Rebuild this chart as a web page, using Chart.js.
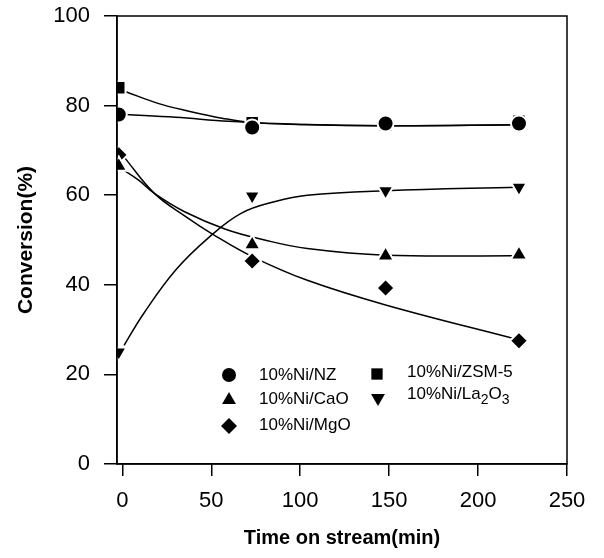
<!DOCTYPE html>
<html>
<head>
<meta charset="utf-8">
<script src="https://cdn.jsdelivr.net/npm/chart.js@4"></script>
<style>
    body { margin: 0; background: #fff; }
    #wrap { width: 604px; height: 558px; position: relative; }
</style>
</head>
<body>
<div id="wrap"><canvas id="conversionChart"></canvas></div>
<script>
// measured points (first run sits just left of the 0 tick, on the axis)
const times = [-2, 73, 148, 223];
const nzValues = [78, 75.1, 76, 76];
const zsmValues = [84, 76.2, 75.6, 76.5];
const caoValues = [66.5, 49, 46.5, 46.7];
const mgoValues = [69, 45.3, 39.3, 27.5];
const laValues = [25, 59.8, 61, 61.8];

// fitted curves
const nzFitX = [2, 30, 60, 100, 150, 223];
const nzFitY = [78, 77.4, 76.5, 75.8, 75.5, 75.7];
const zsmFitX = [2, 20, 38, 56, 73, 100, 150, 223];
const zsmFitY = [83.1, 80.5, 78.7, 77.2, 76.2, 75.8, 75.5, 75.7];
const caoFitX = [0, 9, 18, 35, 58, 80, 104, 148, 223];
const caoFitY = [65.8, 63.4, 60.4, 56.3, 52.4, 50, 48.1, 46.6, 46.5];
const mgoFitX = [1, 18, 35, 52, 73, 104, 148, 223];
const mgoFitY = [68.5, 60.4, 55.4, 51, 46.3, 41, 35.5, 27.7];
const laFitX = [1, 12, 30, 49, 67, 86, 104, 148, 223];
const laFitY = [26.5, 33.6, 43.3, 50.7, 56, 58.6, 60, 61, 61.8];

const xTicks = [0, 50, 100, 150, 200, 250];
const yTicks = [0, 20, 40, 60, 80, 100];

const seriesNames = ['10%Ni/NZ', '10%Ni/CaO', '10%Ni/MgO', '10%Ni/ZSM-5', '10%Ni/La2O3'];

const FONT = '"Liberation Sans", Arial, Helvetica, sans-serif';

function toPoints(xs, ys) {
    return xs.map((x, i) => ({ x: x, y: ys[i] }));
}

function markerSet(label, values, style, radius, rotation) {
    return {
        label: label,
        data: toPoints(times, values),
        showLine: false,
        pointStyle: style,
        pointRadius: radius,
        pointRotation: rotation || 0,
        pointBackgroundColor: '#000',
        pointBorderColor: '#fff',
        pointBorderWidth: 2,
        order: 1
    };
}

function fitSet(xs, ys) {
    return {
        label: 'fit',
        data: toPoints(xs, ys),
        borderColor: '#000',
        borderWidth: 1.5,
        pointRadius: 0,
        fill: false,
        tension: 0.4,
        order: 2
    };
}

// box around the plot area
const framePlugin = {
    id: 'frame',
    afterDatasetsDraw(chart) {
        const { ctx, chartArea: a } = chart;
        ctx.save();
        ctx.strokeStyle = '#000';
        ctx.lineWidth = 1.5;
        ctx.strokeRect(a.left, a.top, a.right - a.left, a.bottom - a.top);
        ctx.restore();
    }
};

// two-column legend inside the plot, with subscripts for La2O3
const legendPlugin = {
    id: 'innerLegend',
    afterDraw(chart) {
        const ctx = chart.ctx;
        const items = [
            { name: seriesNames[0], style: 'circle', r: 7, rot: 0, mx: 229, my: 375, tx: 259, ty: 375 },
            { name: seriesNames[1], style: 'triangle', r: 8, rot: 0, mx: 229, my: 400, tx: 259, ty: 399 },
            { name: seriesNames[2], style: 'rectRot', r: 8, rot: 0, mx: 229, my: 426, tx: 259, ty: 425 },
            { name: seriesNames[3], style: 'rect', r: 8, rot: 0, mx: 377, my: 374, tx: 407, ty: 372 },
            { name: seriesNames[4], style: 'triangle', r: 8, rot: 180, mx: 378, my: 398, tx: 407, ty: 394 }
        ];
        ctx.save();
        ctx.fillStyle = '#000';
        ctx.strokeStyle = '#000';
        items.forEach(it => {
            Chart.helpers.drawPoint(ctx, { pointStyle: it.style, radius: it.r, rotation: it.rot, borderWidth: 0 }, it.mx, it.my);
            ctx.font = '17px ' + FONT;
            ctx.textBaseline = 'middle';
            ctx.textAlign = 'left';
            if (it.name === '10%Ni/La2O3') {
                let x = it.tx;
                const parts = [['10%Ni/La', false], ['2', true], ['O', false], ['3', true]];
                parts.forEach(p => {
                    ctx.font = (p[1] ? '14px ' : '17px ') + FONT;
                    ctx.fillText(p[0], x, it.ty + (p[1] ? 6 : 0));
                    x += ctx.measureText(p[0]).width;
                });
            } else {
                ctx.fillText(it.name, it.tx, it.ty);
            }
        });
        ctx.restore();
    }
};

const ctx = document.getElementById('conversionChart').getContext('2d');
new Chart(ctx, {
    type: 'line',
    data: {
        datasets: [
            fitSet(nzFitX, nzFitY),
            fitSet(zsmFitX, zsmFitY),
            fitSet(caoFitX, caoFitY),
            fitSet(mgoFitX, mgoFitY),
            fitSet(laFitX, laFitY),
            markerSet(seriesNames[0], nzValues, 'circle', 8),
            markerSet(seriesNames[3], zsmValues, 'rect', 9.5),
            markerSet(seriesNames[1], caoValues, 'triangle', 9.5),
            markerSet(seriesNames[2], mgoValues, 'rectRot', 9),
            markerSet(seriesNames[4], laValues, 'triangle', 9, 180)
        ]
    },
    options: {
        responsive: true,
        maintainAspectRatio: false,
        animation: false,
        layout: { padding: { top: 16, right: 37, left: 0, bottom: 0 } },
        plugins: {
            legend: { display: false },
            tooltip: { enabled: false }
        },
        scales: {
            x: {
                type: 'linear',
                min: -3,
                max: 250,
                afterBuildTicks: axis => { axis.ticks = xTicks.map(v => ({ value: v })); },
                afterFit: axis => { axis.height = 94; axis.paddingLeft = 0; axis.paddingRight = 0; },
                grid: { drawOnChartArea: false, tickLength: 12, color: '#000', lineWidth: 1.5 },
                border: { color: '#000', width: 1.5 },
                ticks: { color: '#000', padding: 12, maxRotation: 0, font: { family: FONT, size: 22 } },
                title: {
                    display: true,
                    text: 'Time on stream(min)',
                    color: '#000',
                    padding: { top: 0, bottom: 8 },
                    font: { family: FONT, size: 20, weight: 'bold' }
                }
            },
            y: {
                min: 0,
                max: 100,
                afterBuildTicks: axis => { axis.ticks = yTicks.map(v => ({ value: v })); },
                afterFit: axis => { axis.width = 117; axis.paddingTop = 0; axis.paddingBottom = 0; },
                grid: { drawOnChartArea: false, tickLength: 13, color: '#000', lineWidth: 1.5 },
                border: { color: '#000', width: 1.5 },
                ticks: { color: '#000', padding: 14, font: { family: FONT, size: 22 } },
                title: {
                    display: true,
                    text: 'Conversion(%)',
                    color: '#000',
                    padding: { top: 14, bottom: 0 },
                    font: { family: FONT, size: 21, weight: 'bold' }
                }
            }
        }
    },
    plugins: [framePlugin, legendPlugin]
});
</script>
</body>
</html>
